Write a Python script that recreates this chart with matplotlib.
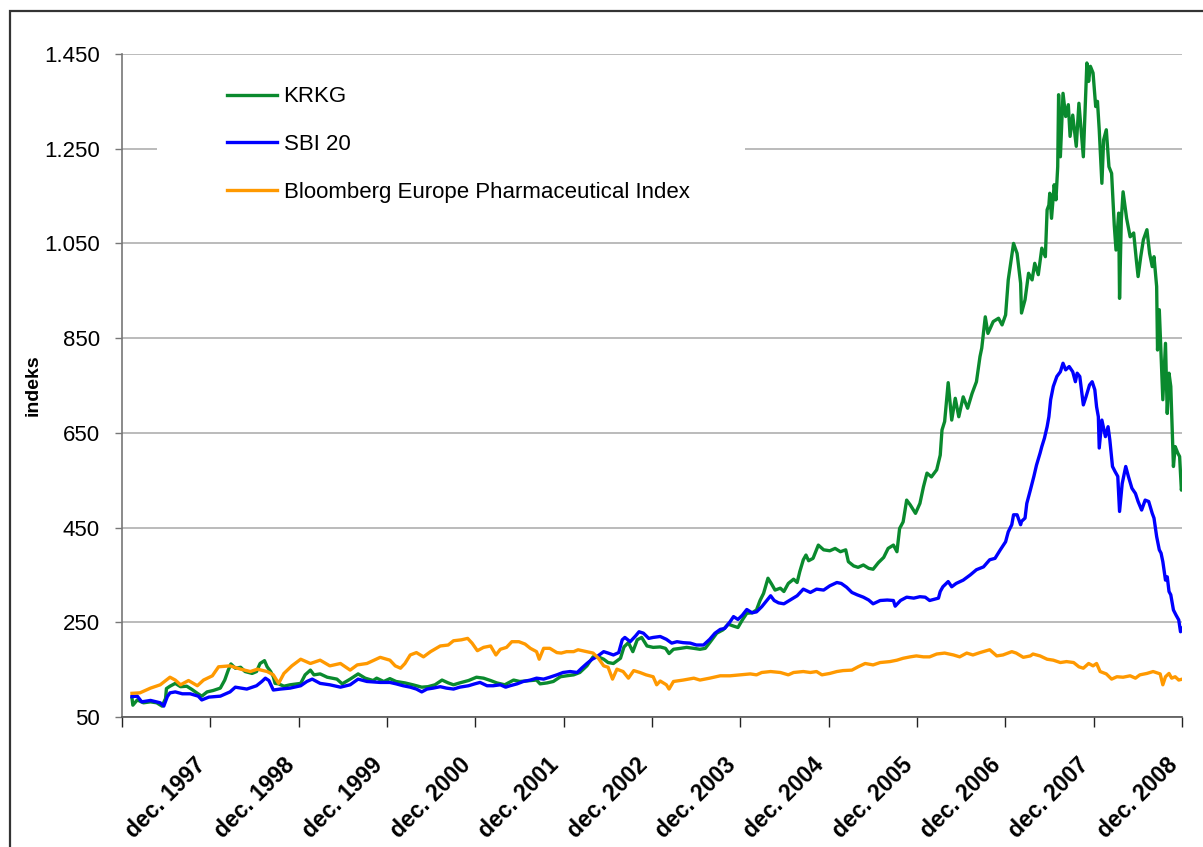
import matplotlib
matplotlib.use("Agg")
import matplotlib.pyplot as plt
import matplotlib.transforms as mtransforms
from matplotlib.patches import Rectangle
from matplotlib import font_manager

# === DATA (x in decimal years) ===
krkg_t = [1997.03, 1997.04, 1997.09, 1997.16, 1997.24, 1997.31, 1997.37, 1997.41, 1997.42, 1997.46,
          1997.52, 1997.58, 1997.65, 1997.71, 1997.77, 1997.82, 1997.88, 1997.95, 1998.03, 1998.08,
          1998.12, 1998.15, 1998.20, 1998.26, 1998.31, 1998.39, 1998.44, 1998.48, 1998.53, 1998.56,
          1998.60, 1998.63, 1998.65, 1998.69, 1998.75, 1998.82, 1998.94, 1998.99, 1999.05, 1999.09,
          1999.16, 1999.24, 1999.35, 1999.41, 1999.50, 1999.59, 1999.67, 1999.76, 1999.80, 1999.88,
          1999.95, 2000.02, 2000.12, 2000.21, 2000.31, 2000.38, 2000.46, 2000.54, 2000.61, 2000.67,
          2000.74, 2000.84, 2000.93, 2001.01, 2001.09, 2001.16, 2001.25, 2001.35, 2001.42, 2001.54,
          2001.61, 2001.65, 2001.73, 2001.80, 2001.88, 2001.95, 2002.03, 2002.10, 2002.18, 2002.25,
          2002.31, 2002.37, 2002.42, 2002.48, 2002.56, 2002.60, 2002.65, 2002.70, 2002.75, 2002.80,
          2002.86, 2002.93, 2003.01, 2003.07, 2003.11, 2003.16, 2003.24, 2003.31, 2003.39, 2003.46,
          2003.52, 2003.57, 2003.65, 2003.72, 2003.78, 2003.84, 2003.89, 2003.94, 2003.99, 2004.05,
          2004.10, 2004.14, 2004.18, 2004.23, 2004.27, 2004.31, 2004.37, 2004.41, 2004.46, 2004.52,
          2004.56, 2004.59, 2004.63, 2004.66, 2004.69, 2004.74, 2004.80, 2004.86, 2004.93, 2004.99,
          2005.05, 2005.11, 2005.14, 2005.20, 2005.25, 2005.31, 2005.37, 2005.42, 2005.48, 2005.54,
          2005.59, 2005.65, 2005.69, 2005.72, 2005.76, 2005.80, 2005.84, 2005.90, 2005.95, 2005.99,
          2006.03, 2006.08, 2006.14, 2006.18, 2006.20, 2006.23, 2006.27, 2006.31, 2006.35, 2006.39,
          2006.44, 2006.49, 2006.54, 2006.59, 2006.63, 2006.65, 2006.69, 2006.72, 2006.78, 2006.84,
          2006.88, 2006.92, 2006.95, 2007.01, 2007.05, 2007.09, 2007.10, 2007.14, 2007.18, 2007.22,
          2007.25, 2007.29, 2007.33, 2007.37, 2007.39, 2007.41, 2007.42, 2007.44, 2007.47, 2007.49,
          2007.51, 2007.52, 2007.54, 2007.57, 2007.60, 2007.63, 2007.65, 2007.68, 2007.72, 2007.75,
          2007.80, 2007.84, 2007.86, 2007.88, 2007.91, 2007.94, 2007.96, 2007.98, 2008.01, 2008.03,
          2008.06, 2008.09, 2008.12, 2008.15, 2008.17, 2008.20, 2008.21, 2008.23, 2008.25, 2008.29,
          2008.33, 2008.37, 2008.40, 2008.42, 2008.45, 2008.48, 2008.52, 2008.55, 2008.58, 2008.60,
          2008.63, 2008.64, 2008.66, 2008.70, 2008.73, 2008.75, 2008.77, 2008.79, 2008.82, 2008.84,
          2008.87, 2008.89, 2008.91, 2008.93]
krkg = [90, 75, 86, 80, 82, 80, 73, 89, 110, 115,
        121, 114, 115, 108, 100, 94, 103, 106, 111, 128,
        149, 162, 153, 155, 146, 142, 146, 163, 169, 156,
        146, 135, 121, 120, 115, 118, 121, 139, 149, 139,
        141, 134, 130, 120, 130, 141, 132, 127, 132, 125,
        131, 125, 122, 118, 113, 114, 118, 128, 122, 118,
        122, 127, 134, 132, 127, 122, 118, 128, 125, 127,
        128, 120, 122, 125, 135, 137, 139, 144, 158, 177,
        177, 172, 165, 163, 174, 198, 207, 188, 213, 218,
        200, 197, 198, 195, 184, 193, 195, 197, 195, 193,
        195, 207, 227, 234, 246, 242, 239, 255, 269, 270,
        276, 296, 311, 343, 331, 318, 322, 315, 332, 341,
        334, 357, 382, 392, 380, 385, 413, 403, 401, 406,
        399, 403, 378, 369, 366, 371, 364, 362, 376, 387,
        406, 413, 399, 448, 462, 508, 498, 480, 501, 536,
        565, 557, 572, 603, 656, 674, 756, 677, 723, 684,
        726, 702, 733, 758, 811, 829, 895, 860, 885, 892,
        878, 899, 973, 1050, 1029, 966, 903, 931, 987, 973,
        1008, 984, 1040, 1022, 1121, 1131, 1156, 1103, 1174, 1142,
        1212, 1364, 1233, 1367, 1318, 1343, 1276, 1321, 1255, 1346,
        1233, 1431, 1392, 1424, 1410, 1339, 1350, 1290, 1177, 1269,
        1290, 1212, 1198, 1089, 1036, 1114, 934, 1100, 1159, 1103,
        1064, 1072, 1015, 980, 1022, 1058, 1079, 1029, 1001, 1022,
        959, 825, 910, 720, 839, 691, 776, 748, 579, 621,
        607, 600, 529, 558]

sbi_t = [1997.03, 1997.09, 1997.14, 1997.24, 1997.35, 1997.39, 1997.43, 1997.46, 1997.52, 1997.60,
         1997.69, 1997.78, 1997.82, 1997.90, 1998.03, 1998.14, 1998.20, 1998.33, 1998.44, 1998.50,
         1998.54, 1998.58, 1998.63, 1998.71, 1998.82, 1998.94, 1999.01, 1999.07, 1999.16, 1999.27,
         1999.39, 1999.50, 1999.59, 1999.69, 1999.84, 1999.95, 2000.02, 2000.10, 2000.18, 2000.25,
         2000.31, 2000.37, 2000.44, 2000.52, 2000.59, 2000.67, 2000.74, 2000.84, 2000.91, 2000.97,
         2001.05, 2001.12, 2001.20, 2001.26, 2001.31, 2001.39, 2001.46, 2001.54, 2001.61, 2001.69,
         2001.76, 2001.84, 2001.91, 2001.99, 2002.07, 2002.12, 2002.18, 2002.24, 2002.29, 2002.37,
         2002.42, 2002.48, 2002.54, 2002.58, 2002.61, 2002.67, 2002.73, 2002.77, 2002.82, 2002.88,
         2002.93, 2003.01, 2003.08, 2003.14, 2003.20, 2003.27, 2003.35, 2003.42, 2003.50, 2003.57,
         2003.63, 2003.69, 2003.74, 2003.80, 2003.84, 2003.89, 2003.94, 2003.99, 2004.05, 2004.10,
         2004.16, 2004.22, 2004.26, 2004.30, 2004.35, 2004.41, 2004.48, 2004.56, 2004.63, 2004.71,
         2004.78, 2004.86, 2004.93, 2005.01, 2005.06, 2005.12, 2005.18, 2005.24, 2005.31, 2005.37,
         2005.42, 2005.50, 2005.58, 2005.65, 2005.67, 2005.73, 2005.80, 2005.88, 2005.95, 2006.01,
         2006.06, 2006.16, 2006.18, 2006.21, 2006.27, 2006.31, 2006.36, 2006.44, 2006.52, 2006.59,
         2006.67, 2006.74, 2006.80, 2006.86, 2006.92, 2006.95, 2006.99, 2007.01, 2007.05, 2007.09,
         2007.10, 2007.14, 2007.16, 2007.20, 2007.24, 2007.27, 2007.31, 2007.33, 2007.36, 2007.39,
         2007.41, 2007.43, 2007.46, 2007.50, 2007.54, 2007.57, 2007.60, 2007.64, 2007.68, 2007.71,
         2007.73, 2007.76, 2007.80, 2007.83, 2007.87, 2007.90, 2007.93, 2007.95, 2007.97, 2007.98,
         2008.01, 2008.05, 2008.08, 2008.10, 2008.13, 2008.16, 2008.19, 2008.21, 2008.24, 2008.28,
         2008.31, 2008.35, 2008.39, 2008.42, 2008.46, 2008.50, 2008.54, 2008.58, 2008.60, 2008.63,
         2008.66, 2008.68, 2008.70, 2008.73, 2008.75, 2008.77, 2008.79, 2008.82, 2008.85, 2008.88,
         2008.90, 2008.92]
sbi = [93, 94, 82, 85, 80, 73, 93, 101, 103, 99,
       99, 94, 86, 92, 94, 103, 113, 109, 116, 125,
       132, 127, 107, 109, 111, 116, 125, 130, 121, 118,
       113, 118, 130, 125, 123, 123, 120, 116, 113, 109,
       103, 109, 111, 114, 111, 109, 113, 116, 120, 123,
       116, 116, 118, 113, 116, 120, 125, 128, 132, 130,
       134, 139, 144, 146, 144, 153, 163, 172, 177, 188,
       185, 181, 186, 213, 218, 209, 221, 230, 227, 216,
       218, 220, 214, 206, 209, 207, 206, 202, 202, 214,
       227, 235, 237, 251, 262, 256, 265, 277, 270, 272,
       283, 297, 306, 296, 291, 289, 297, 306, 320, 313,
       320, 318, 327, 334, 332, 324, 313, 308, 303, 297,
       289, 296, 297, 296, 284, 296, 303, 301, 304, 303,
       296, 301, 315, 325, 336, 325, 332, 339, 350, 361,
       367, 382, 385, 403, 420, 441, 456, 477, 477, 456,
       463, 470, 501, 529, 558, 582, 607, 621, 639, 663,
       684, 720, 748, 769, 779, 797, 783, 790, 779, 758,
       776, 769, 709, 726, 751, 758, 741, 705, 684, 618,
       677, 642, 663, 635, 579, 568, 558, 484, 543, 579,
       558, 533, 522, 505, 487, 508, 505, 480, 470, 431,
       403, 396, 378, 339, 346, 315, 308, 276, 265, 255,
       230, 237]

bbg_t = [1997.03, 1997.12, 1997.24, 1997.35, 1997.46, 1997.52, 1997.58, 1997.67, 1997.77, 1997.84,
         1997.94, 1998.01, 1998.14, 1998.26, 1998.37, 1998.45, 1998.56, 1998.63, 1998.69, 1998.75,
         1998.84, 1998.94, 1999.05, 1999.16, 1999.27, 1999.39, 1999.50, 1999.58, 1999.69, 1999.84,
         1999.95, 2000.01, 2000.07, 2000.12, 2000.18, 2000.25, 2000.33, 2000.41, 2000.52, 2000.61,
         2000.67, 2000.76, 2000.83, 2000.88, 2000.94, 2001.01, 2001.09, 2001.15, 2001.20, 2001.27,
         2001.33, 2001.41, 2001.48, 2001.54, 2001.61, 2001.64, 2001.69, 2001.76, 2001.84, 2001.89,
         2001.95, 2002.03, 2002.08, 2002.18, 2002.25, 2002.31, 2002.37, 2002.42, 2002.47, 2002.52,
         2002.59, 2002.65, 2002.71, 2002.78, 2002.85, 2002.93, 2002.97, 2003.01, 2003.08, 2003.11,
         2003.16, 2003.27, 2003.39, 2003.46, 2003.57, 2003.69, 2003.80, 2003.92, 2004.03, 2004.10,
         2004.16, 2004.26, 2004.37, 2004.46, 2004.52, 2004.63, 2004.71, 2004.78, 2004.84, 2004.93,
         2005.01, 2005.08, 2005.18, 2005.25, 2005.33, 2005.42, 2005.50, 2005.61, 2005.69, 2005.76,
         2005.84, 2005.91, 2005.99, 2006.06, 2006.14, 2006.23, 2006.33, 2006.40, 2006.48, 2006.55,
         2006.63, 2006.74, 2006.82, 2006.89, 2006.99, 2007.04, 2007.12, 2007.20, 2007.23, 2007.31,
         2007.39, 2007.46, 2007.54, 2007.61, 2007.69, 2007.75, 2007.80, 2007.86, 2007.91, 2007.95,
         2007.99, 2008.06, 2008.12, 2008.18, 2008.25, 2008.33, 2008.39, 2008.44, 2008.52, 2008.59,
         2008.67, 2008.70, 2008.73, 2008.77, 2008.80, 2008.84, 2008.88, 2008.92]
bbg = [100, 101, 111, 118, 134, 128, 118, 127, 116, 128,
       137, 156, 158, 151, 146, 151, 146, 139, 121, 142,
       158, 172, 163, 170, 158, 163, 149, 160, 163, 176,
       170, 158, 153, 163, 181, 186, 177, 188, 200, 202,
       211, 213, 216, 206, 190, 197, 200, 181, 193, 197,
       209, 209, 204, 195, 188, 172, 195, 195, 186, 185,
       188, 188, 192, 188, 185, 174, 158, 155, 130, 151,
       146, 132, 148, 144, 139, 135, 118, 126, 118, 109,
       125, 128, 132, 128, 132, 137, 137, 139, 141, 139,
       144, 146, 144, 139, 144, 146, 144, 146, 139, 142,
       146, 148, 149, 156, 163, 160, 165, 167, 170, 174,
       177, 179, 177, 177, 183, 185, 181, 177, 185, 181,
       186, 192, 179, 181, 188, 185, 176, 179, 183, 179,
       172, 170, 165, 167, 165, 156, 153, 163, 158, 163,
       146, 141, 130, 135, 134, 137, 132, 139, 142, 146,
       141, 118, 135, 142, 132, 135, 128, 130]

series_names = ["KRKG", "SBI 20", "Bloomberg Europe Pharmaceutical Index"]
series_colors = ["#0a8a2e", "#0000ff", "#ff9900"]

y_ticks = [50, 250, 450, 650, 850, 1050, 1250, 1450]
y_tick_labels = ["50", "250", "450", "650", "850", "1.050", "1.250", "1.450"]
x_ticks = [1996.917 + k for k in range(13)]
x_tick_labels = [""] + [f"dec. {y}" for y in range(1997, 2009)]
y_label = "indeks"

# pick a narrow sans if installed, else normal
names = {f.name for f in font_manager.fontManager.ttflist}
base_font = "Liberation Sans Narrow" if "Liberation Sans Narrow" in names else "Liberation Sans"
plt.rcParams['font.family'] = [base_font, 'DejaVu Sans']

fig = plt.figure(figsize=(12.03, 8.47), dpi=100)
ax = fig.add_axes([122 / 1203, 1 - 717 / 847, 1060 / 1203, 663 / 847])

# outer frame of the chart object
fig.patches.append(Rectangle((10 / 1203, -0.1), 1.2, 1.1 - 11 / 847, transform=fig.transFigure,
                             fill=False, edgecolor="#333333", linewidth=1.6))

for t, v, name, col in zip([krkg_t, sbi_t, bbg_t], [krkg, sbi, bbg], series_names, series_colors):
    ax.plot(t, v, color=col, linewidth=2.4, label=name, zorder=3)

ax.set_xlim(x_ticks[0], x_ticks[-1])
ax.set_ylim(50, 1450)
ax.set_yticks(y_ticks)
ax.set_yticklabels(y_tick_labels, fontsize=16)
ax.set_xticks(x_ticks)
ax.set_xticklabels(x_tick_labels, fontsize=16.5, fontweight="bold", rotation=45,
                   ha="right", va="center", rotation_mode="anchor")
ax.tick_params(axis="y", direction="out", length=5, width=1, color="#777777", pad=11)
ax.tick_params(axis="x", direction="out", length=7, width=1, color="#222222", pad=25)

# nudge the rotated date labels a little to the left
shift = mtransforms.ScaledTranslation(-8 / 100, 0, fig.dpi_scale_trans)
for lab in ax.get_xticklabels():
    lab.set_transform(lab.get_transform() + shift)

ax.grid(axis="y", color="#a8a8a8", linewidth=1.1)
ax.set_axisbelow(True)
for s in ["top", "right"]:
    ax.spines[s].set_visible(False)
ax.spines["left"].set_color("#777777")
ax.spines["bottom"].set_color("#555555")
ax.spines["left"].set_linewidth(1.2)
ax.spines["bottom"].set_linewidth(1.2)

ax.set_ylabel(y_label, fontsize=14, fontweight="bold")
ax.yaxis.set_label_coords(-0.076, 0.5)

# white box behind the legend that hides the gridline
ax.add_patch(Rectangle((35 / 1060, (717 - 225) / 663), 588 / 1060, 160 / 663, transform=ax.transAxes,
                       facecolor="white", edgecolor="none", zorder=1))
ax.legend(loc="upper left", bbox_to_anchor=(0.099, 0.951), frameon=False, fontsize=16,
          borderpad=0, handlelength=2.25, handletextpad=0.3, labelspacing=1.2, borderaxespad=0)

fig.savefig("out.png", dpi=100)
